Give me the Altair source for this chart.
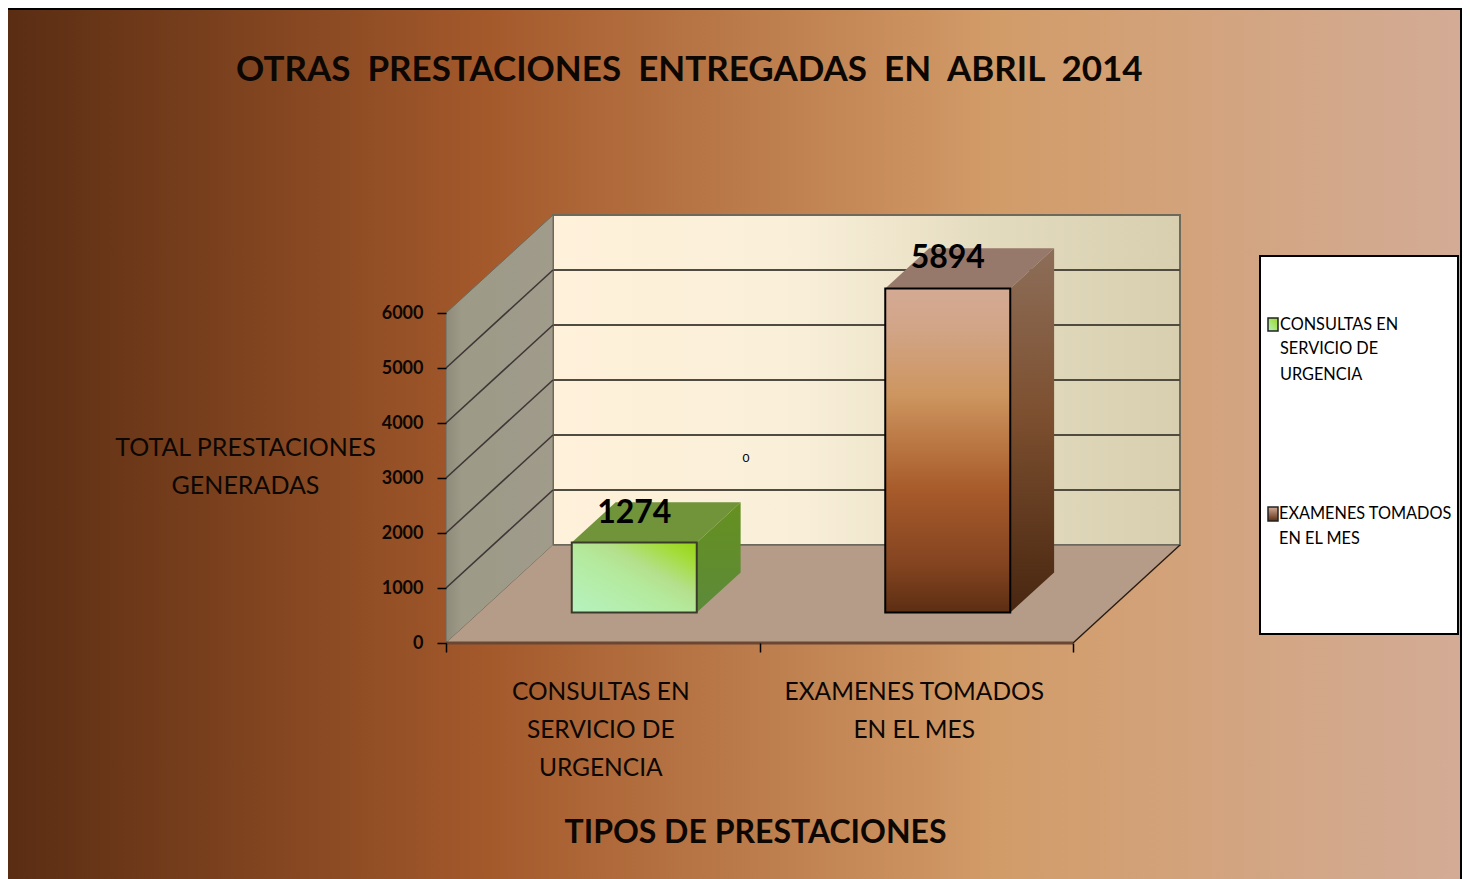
import altair as alt
import pandas as pd

# ---------- values ----------
TITLE = "OTRAS \u00a0PRESTACIONES \u00a0ENTREGADAS \u00a0EN \u00a0ABRIL \u00a02014"
X_TITLE = "TIPOS DE PRESTACIONES"
Y_TITLE = ["TOTAL PRESTACIONES", "GENERADAS"]
CATEGORIES = ["CONSULTAS EN|SERVICIO DE|URGENCIA", "EXAMENES TOMADOS|EN EL MES"]
VALUES = [1274, 5894]
LEGEND_1 = ["CONSULTAS EN", "SERVICIO DE", "URGENCIA"]
LEGEND_2 = ["EXAMENES TOMADOS", "EN EL MES"]
Y_TICKS = [0, 1000, 2000, 3000, 4000, 5000, 6000]

# ---------- layout (pixels of the picture) ----------
W, H = 1454, 871
OX, OY = 8, 8
FX0, FX1, FY0 = 446, 1073, 643          # front floor edge
DX, DY = 107, -98                       # depth vector of the box
PX_PER_UNIT = 55 / 1000
BAR_DEPTH0, BAR_DEPTH1 = 0.31, 0.72
BAR_W = 125
FONT = "Lato"
INK = "#0c0703"


def vy(v, d=0.0):
    return FY0 + DY * d - v * PX_PER_UNIT


X_PX = alt.Scale(domain=[OX, OX + W], range=[0, W], nice=False, zero=False)
Y_PX = alt.Scale(domain=[OY, OY + H], range=[0, H], nice=False, zero=False)
TOPV = Y_TICKS[-1]


def grad(stops, x1=0, y1=0, x2=1, y2=0):
    return alt.Gradient(
        gradient="linear", x1=x1, y1=y1, x2=x2, y2=y2,
        stops=[alt.GradientStop(offset=o, color=c) for o, c in stops],
    )


def rect(x0, x1, y0, y1, **mk):
    d = pd.DataFrame({"x": [x0], "x2": [x1], "y": [y0], "y2": [y1]})
    return alt.Chart(d).mark_rect(**mk).encode(
        x=alt.X("x:Q", scale=X_PX, axis=None), x2="x2:Q",
        y=alt.Y("y:Q", scale=Y_PX, axis=None), y2="y2:Q",
    )


def vface(x0, x1, top0, top1, bot0, bot1, **mk):
    """face with vertical sides"""
    d = pd.DataFrame({"x": [x0, x1], "y": [top0, top1], "y2": [bot0, bot1]})
    return alt.Chart(d).mark_area(**mk).encode(
        x=alt.X("x:Q", scale=X_PX, axis=None),
        y=alt.Y("y:Q", scale=Y_PX, axis=None), y2="y2:Q",
    )


def hface(y0, y1, left0, left1, right0, right1, **mk):
    """face with horizontal sides"""
    d = pd.DataFrame({"y": [y0, y1], "x": [left0, left1], "x2": [right0, right1]})
    return alt.Chart(d).mark_area(orient="horizontal", **mk).encode(
        y=alt.Y("y:Q", scale=Y_PX, axis=None),
        x=alt.X("x:Q", scale=X_PX, axis=None), x2="x2:Q",
    )


def rules(rows, **mk):
    d = pd.DataFrame(rows, columns=["x", "y", "x2", "y2"])
    return alt.Chart(d).mark_rule(**mk).encode(
        x=alt.X("x:Q", scale=X_PX, axis=None), x2="x2:Q",
        y=alt.Y("y:Q", scale=Y_PX, axis=None), y2="y2:Q",
    )


def texts(rows, **mk):
    d = pd.DataFrame(rows, columns=["x", "y", "t"])
    return alt.Chart(d).mark_text(**mk).encode(
        x=alt.X("x:Q", scale=X_PX, axis=None),
        y=alt.Y("y:Q", scale=Y_PX, axis=None),
        text="t:N",
    )


layers = []

# background and the two visible border lines
RIGHT = OX + W
layers.append(rect(OX, RIGHT, OY, OY + H,
    fill=grad([(0, "#5a2d13"), (0.33, "#a4592b"), (0.68, "#d29c69"), (1, "#d3ac96")])))
layers.append(rules([[OX, OY, RIGHT, OY]], color="#000000", strokeWidth=4))
layers.append(rules([[RIGHT - 1, OY, RIGHT - 1, OY + H]], color="#000000", strokeWidth=2))

# back wall
BX0, BX1 = FX0 + DX, FX1 + DX
layers.append(rect(BX0, BX1, vy(TOPV, 1), vy(0, 1),
    fill=grad([(0, "#fff1da"), (0.4, "#f9efd9"), (0.7, "#e3dbbe"), (1, "#d8cfb0")]),
    stroke="#6d6a5c", strokeWidth=2))
layers.append(rules([[BX0, vy(v, 1), BX1, vy(v, 1)] for v in Y_TICKS[1:-1]],
                    color="#4f4b40", strokeWidth=2))

# left wall
layers.append(vface(FX0, BX0, vy(TOPV), vy(TOPV, 1), vy(0), vy(0, 1),
    fill=grad([(0, "#8e8b7a"), (0.15, "#9d9a88"), (1, "#a09b8a")]),
    stroke="#6d6a5c", strokeWidth=1))
layers.append(rules([[FX0, vy(v), BX0, vy(v, 1)] for v in Y_TICKS[1:-1]],
                    color="#3f3636", strokeWidth=1.6))

# floor
layers.append(hface(vy(0), vy(0, 1), FX0, BX0, FX1, BX1, fill="#b59c88"))
layers.append(rules([[BX0, vy(0, 1), BX1, vy(0, 1)]], color="#6d6a5c", strokeWidth=1.5))
layers.append(rules([[FX1, vy(0), BX1, vy(0, 1)]], color="#2a1a10", strokeWidth=1.4))
layers.append(rules([[FX0, vy(0), FX1, vy(0)]], color="#6a4733", strokeWidth=3))

# bars: shared projection through a band scale and a value scale
band_w = (FX1 - FX0) / len(CATEGORIES)
shift_x = 31.5
shift_y = DY * BAR_DEPTH0
BAR_X = alt.Scale(domain=CATEGORIES, range=[FX0 + shift_x - OX, FX1 + shift_x - OX],
                  paddingInner=0, paddingOuter=0)
BAR_Y = alt.Scale(domain=[0, TOPV], range=[FY0 + shift_y - OY, FY0 + shift_y - OY - TOPV * PX_PER_UNIT],
                  nice=False)
bars = pd.DataFrame({"cat": CATEGORIES, "val": VALUES})

FRONT = [
    grad([(0, "#b6f2c0"), (0.45, "#b4ea9e"), (0.62, "#b4e08c"), (0.85, "#a4dc38"), (1, "#96d414")],
         x1=0, y1=1, x2=1, y2=0),
    grad([(0, "#d4aa94"), (0.12, "#d2a588"), (0.33, "#cd955f"), (0.62, "#a85b2b"), (0.85, "#844420"), (1, "#5c2e13")],
         x1=0, y1=0, x2=0, y2=1),
]
TOP = ["#71933a", "#97796b"]
SIDE = [
    grad([(0, "#66901f"), (1, "#5c8a3a")], x1=0, y1=0, x2=0, y2=1),
    grad([(0, "#8d6e59"), (0.45, "#7d5030"), (1, "#482610")], x1=0, y1=0, x2=0, y2=1),
]
EDGE = ["#3a3a2a", "#000000"]
dd = BAR_DEPTH1 - BAR_DEPTH0
for i, (cat, val) in enumerate(zip(CATEGORIES, VALUES)):
    cx = FX0 + band_w * (i + 0.5) + shift_x
    xl, xr = cx - BAR_W / 2, cx + BAR_W / 2
    ytop = FY0 + shift_y - val * PX_PER_UNIT
    ybot = FY0 + shift_y
    ox, oy = DX * dd, DY * dd
    layers.append(hface(ytop, ytop + oy, xl, xl + ox, xr, xr + ox, fill=TOP[i]))
    layers.append(vface(xr, xr + ox, ytop, ytop + oy, ybot, ybot + oy, fill=SIDE[i]))
    layers.append(
        alt.Chart(bars[bars.cat == cat]).mark_bar(
            size=BAR_W, fill=FRONT[i], stroke=EDGE[i], strokeWidth=2
        ).encode(
            x=alt.X("cat:N", scale=BAR_X, axis=None, sort=CATEGORIES),
            y=alt.Y("val:Q", scale=BAR_Y, axis=None),
        )
    )

# data labels on the bars
layers.append(
    alt.Chart(bars).mark_text(font=FONT, fontSize=32, fontWeight="bold", color="#000000",
                              baseline="bottom", dy=-13).encode(
        x=alt.X("cat:N", scale=BAR_X, axis=None, sort=CATEGORIES),
        y=alt.Y("val:Q", scale=BAR_Y, axis=None),
        text=alt.Text("val:Q", format="d"),
    )
)

# stray zero label
layers.append(texts([[746, vy(0, 1) - 87, "0"]], font=FONT, fontSize=12, color="#000000"))

# real axes
axis_df = pd.DataFrame({"cat": CATEGORIES, "val": VALUES})
layers.append(
    alt.Chart(axis_df).mark_point(opacity=0).encode(
        x=alt.X("cat:N", sort=CATEGORIES, title=X_TITLE,
                scale=alt.Scale(domain=CATEGORIES, range=[FX0 - OX, FX1 - OX], paddingInner=0, paddingOuter=0),
                axis=alt.Axis(orient="bottom", offset=FY0 - OY - H, zindex=1,
                              tickBand="extent", tickSize=9, tickWidth=1.5, tickColor="#000000",
                              domain=False, labelAngle=0, labelFont=FONT, labelFontSize=24.5,
                              labelColor=INK, labelPadding=28, labelLineHeight=38, labelLimit=600,
                              labelOffset=-2.5,
                              labelAlign="center", labelBaseline="top",
                              labelExpr="split(datum.label,'|')",
                              titleFont=FONT, titleFontSize=32, titleFontWeight="bold",
                              titleColor=INK, titleX=747, titleY=189, titleBaseline="middle")),
        y=alt.Y("val:Q", title=Y_TITLE,
                scale=alt.Scale(domain=[0, TOPV], range=[FY0 - OY, FY0 - OY - TOPV * PX_PER_UNIT], nice=False),
                axis=alt.Axis(orient="left", offset=-(FX0 - OX),
                              zindex=1, values=Y_TICKS, grid=False, domain=False,
                              tickSize=9, tickWidth=1.5, tickColor="#000000",
                              labelFont=FONT, labelFontSize=18, labelFontWeight="bold",
                              labelColor=INK, labelPadding=14, format="d",
                              titleFont=FONT, titleFontSize=25, titleFontWeight="normal",
                              titleColor=INK, titleAngle=0, titleX=-201, titleY=439,
                              titleAlign="center", titleBaseline="middle", titleLineHeight=38)),
    )
)

# legend box
LX0, LX1, LY0, LY1 = 1260, 1458, 256, 634
layers.append(rect(LX0, LX1, LY0, LY1, fill="#ffffff", stroke="#000000", strokeWidth=2))
layers.append(rect(1268, 1278, 318, 331, stroke="#222222", strokeWidth=1.5,
                   fill=grad([(0, "#98d820"), (1, "#b6f2c0")], x1=1, y1=0, x2=0, y2=1)))
layers.append(rect(1268, 1278, 507, 521, stroke="#222222", strokeWidth=1.5,
                   fill=grad([(0, "#d4aa94"), (1, "#5c2e13")], x1=0, y1=0, x2=0, y2=1)))
LEG = dict(font=FONT, fontSize=16.3, color="#000000", align="left", baseline="middle")
layers.append(texts([[1280, y, t] for y, t in zip([325, 349, 375], LEGEND_1)], **LEG))
layers.append(texts([[1279, y, t] for y, t in zip([514, 539], LEGEND_2)], **LEG))

chart = alt.layer(*layers).resolve_scale(x="independent", y="independent").properties(
    width=W, height=H,
    padding=0,
    autosize=alt.AutoSizeParams(type="none"),
    title=alt.TitleParams(TITLE, font=FONT, fontSize=35, fontWeight="bold", color=INK,
                          anchor="start", frame="group", dx=228, dy=103, baseline="middle"),
).configure_view(stroke=None).configure_title(limit=0)

chart.save("out.html", embed_options={"renderer": "svg", "actions": False})
